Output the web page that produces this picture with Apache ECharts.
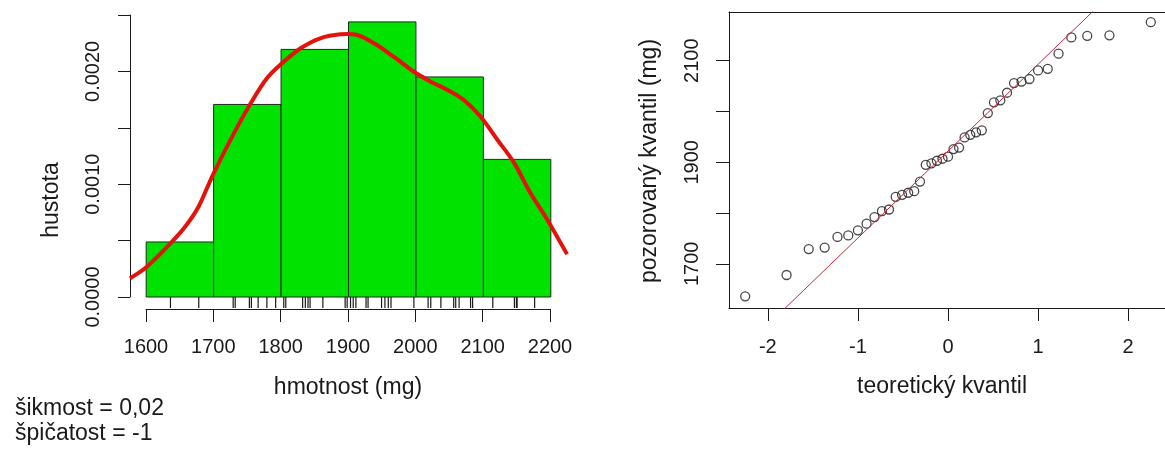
<!DOCTYPE html>
<html>
<head>
<meta charset="utf-8">
<script src="https://cdn.jsdelivr.net/npm/echarts@6/dist/echarts.min.js"></script>
<style>
  html, body { margin: 0; padding: 0; background: #fff; }
  #MyChart { width: 1165px; height: 450px; }
</style>
</head>
<body>
<div id="MyChart"></div>
<script>
// histogram bins (density scale)
const binStarts = [1600, 1700, 1800, 1900, 2000, 2100];
const binEnds = [1700, 1800, 1900, 2000, 2100, 2200];
const binDensity = [0.000488, 0.001707, 0.002195, 0.002439, 0.001951, 0.00122];

// measured weights, sorted (rug + qq plot)
const weights = [1636, 1678, 1729, 1732, 1753, 1756, 1766, 1779, 1792, 1804,
  1807, 1832, 1836, 1840, 1843, 1862, 1895, 1898, 1903, 1907,
  1911, 1926, 1929, 1949, 1954, 1959, 1963, 1997, 2018, 2022,
  2037, 2056, 2059, 2064, 2081, 2084, 2114, 2146, 2149, 2150, 2176];

// theoretical normal quantiles for the 41 points
const theorQuantiles = [-2.251, -1.792, -1.546, -1.369, -1.227, -1.107, -1.0, -0.904, -0.816, -0.733,
  -0.655, -0.581, -0.51, -0.442, -0.375, -0.311, -0.247, -0.184, -0.123, -0.061,
  0, 0.061, 0.123, 0.184, 0.247, 0.311, 0.375, 0.442, 0.51, 0.581,
  0.655, 0.733, 0.816, 0.904, 1.0, 1.107, 1.227, 1.369, 1.546, 1.792, 2.251];

// kernel density curve
const densityX = [1576, 1601, 1636, 1658, 1678, 1700, 1730, 1755, 1779, 1804,
  1829, 1858, 1888, 1913, 1938, 1967, 1997, 2022, 2047, 2071,
  2096, 2121, 2146, 2170, 2195, 2224];
const densityY = [0.000166, 0.000269, 0.000476, 0.000625, 0.000805, 0.001097, 0.001451, 0.001717, 0.001939, 0.002086,
  0.002205, 0.002293, 0.002329, 0.002323, 0.002249, 0.00213, 0.001997, 0.001909, 0.001835, 0.001746,
  0.001598, 0.001392, 0.001185, 0.000919, 0.000683, 0.000380];

// qq line end points
const qqLineX = [-2.431, 2.431];
const qqLineY = [1506, 2338];

const histTicks = [1600, 1700, 1800, 1900, 2000, 2100, 2200];
const densityLabels = [0, 0.001, 0.002];
const qqXTicks = [-2, -1, 0, 1, 2];
const qqYTicks = [1700, 1800, 1900, 2000, 2100];
const qqYLabels = [1700, 1900, 2100];

const FONT = 'Liberation Sans, Arial, Helvetica, sans-serif';
const INK = '#1a1a1a';

let myChart = echarts.init(document.getElementById('MyChart'), null, { renderer: 'canvas' });

function label(text, x, y, size, rot, align) {
  return {
    type: 'text', x: x, y: y, rotation: rot || 0,
    style: {
      text: text, fontSize: size, fontFamily: FONT, fill: INK,
      align: align || 'center', verticalAlign: 'middle',
      textAlign: align || 'center', textVerticalAlign: 'middle'
    }
  };
}

// smooth curve through the pixel points (Catmull-Rom as cubic bezier)
function curvePath(pts) {
  let d = 'M' + pts[0][0] + ' ' + pts[0][1];
  for (let i = 0; i < pts.length - 1; i++) {
    const p0 = pts[i > 0 ? i - 1 : i], p1 = pts[i], p2 = pts[i + 1];
    const p3 = pts[i + 2 < pts.length ? i + 2 : i + 1];
    const c1x = p1[0] + (p2[0] - p0[0]) / 6, c1y = p1[1] + (p2[1] - p0[1]) / 6;
    const c2x = p2[0] - (p3[0] - p1[0]) / 6, c2y = p2[1] - (p3[1] - p1[1]) / 6;
    d += ' C' + c1x + ' ' + c1y + ' ' + c2x + ' ' + c2y + ' ' + p2[0] + ' ' + p2[1];
  }
  return d;
}

const hidden = { show: false };
const plain = v => String(v);

let option = {
  backgroundColor: '#fff',
  animation: false,
  grid: [
    { left: 130, top: 15, width: 437, height: 282, outerBoundsMode: 'none', containLabel: false },   // histogram
    { left: 130, top: 297, width: 437, height: 11, outerBoundsMode: 'none', containLabel: false },   // rug
    { left: 146, top: 308, width: 404, height: 1, outerBoundsMode: 'none', containLabel: false },    // x axis of histogram
    { left: 729, top: 12, width: 438, height: 296, outerBoundsMode: 'none', containLabel: false }    // qq plot
  ],
  xAxis: [
    { gridIndex: 0, type: 'value', min: 1576, max: 2224, show: false },
    { gridIndex: 1, type: 'value', min: 1576, max: 2224, show: false },
    {
      gridIndex: 2, type: 'value', min: 1600, max: 2200, interval: 100, position: 'bottom',
      splitLine: hidden,
      axisLine: { show: true, lineStyle: { color: INK, width: 1 } },
      axisTick: { show: true, length: 13, lineStyle: { color: INK } },
      axisLabel: { fontSize: 20, fontFamily: FONT, color: INK, margin: 28, customValues: histTicks, formatter: plain }
    },
    {
      gridIndex: 3, type: 'value', min: qqLineX[0], max: qqLineX[1], position: 'bottom',
      splitLine: hidden,
      axisLine: { show: true, onZero: false, lineStyle: { color: INK, width: 1 } },
      axisTick: { show: true, length: 13, customValues: qqXTicks, lineStyle: { color: INK } },
      axisLabel: { fontSize: 20, fontFamily: FONT, color: INK, margin: 29, customValues: qqXTicks, formatter: plain }
    },
    {
      gridIndex: 3, type: 'value', min: qqLineX[0], max: qqLineX[1], position: 'top',
      splitLine: hidden, axisTick: hidden, axisLabel: hidden,
      axisLine: { show: true, onZero: false, lineStyle: { color: INK, width: 1 } }
    }
  ],
  yAxis: [
    {
      gridIndex: 0, type: 'value', min: 0, max: 0.0025, interval: 0.0005,
      splitLine: hidden,
      axisLine: { show: true, lineStyle: { color: INK, width: 1 } },
      axisTick: { show: true, length: 12, lineStyle: { color: INK } },
      axisLabel: {
        rotate: 90, margin: 27, fontSize: 20, fontFamily: FONT, color: INK,
        customValues: densityLabels,
        formatter: v => v.toFixed(4)
      }
    },
    { gridIndex: 1, type: 'value', min: 0, max: 1, show: false },
    { gridIndex: 2, type: 'value', min: 0, max: 1, show: false },
    {
      gridIndex: 3, type: 'value', min: 1613, max: 2196,
      splitLine: hidden,
      axisLine: { show: true, onZero: false, lineStyle: { color: INK, width: 1 } },
      axisTick: { show: true, length: 13, customValues: qqYTicks, lineStyle: { color: INK } },
      axisLabel: {
        rotate: 90, margin: 27, fontSize: 20, fontFamily: FONT, color: INK,
        customValues: qqYLabels, formatter: plain
      }
    }
  ],
  graphic: [
    label('hustota', 52, 200, 23, Math.PI / 2),
    label('hmotnost (mg)', 348, 388, 23),
    label('šikmost = 0,02', 15, 409, 23, 0, 'left'),
    label('špičatost = -1', 15, 434, 23, 0, 'left'),
    label('pozorovaný kvantil (mg)', 650, 161, 23, Math.PI / 2),
    label('teoretický kvantil', 942, 387, 23)
  ],
  series: [
    {
      // histogram bars
      type: 'custom', xAxisIndex: 0, yAxisIndex: 0,
      data: binStarts.map((b, i) => [b, binEnds[i], binDensity[i]]),
      renderItem: function (params, api) {
        const p0 = api.coord([api.value(0), api.value(2)]);
        const p1 = api.coord([api.value(1), 0]);
        return {
          type: 'rect',
          shape: { x: p0[0], y: p0[1], width: p1[0] - p0[0], height: p1[1] - p0[1] },
          style: { fill: '#00e300', stroke: '#1e2a1e', lineWidth: 1 }
        };
      }
    },
    {
      // density curve
      type: 'custom', xAxisIndex: 0, yAxisIndex: 0,
      data: [[densityX[0], densityY[0]]],
      renderItem: function (params, api) {
        const pts = densityX.map((x, i) => api.coord([x, densityY[i]]));
        return {
          type: 'path',
          shape: { pathData: curvePath(pts) },
          style: { fill: 'none', stroke: '#e3120b', lineWidth: 4, lineJoin: 'round' }
        };
      }
    },
    {
      // rug
      type: 'custom', xAxisIndex: 1, yAxisIndex: 1,
      data: weights,
      renderItem: function (params, api) {
        const a = api.coord([api.value(0), 0]);
        const b = api.coord([api.value(0), 1]);
        return {
          type: 'line',
          shape: { x1: a[0], y1: a[1], x2: b[0], y2: b[1] },
          style: { stroke: INK, lineWidth: 1.2 }
        };
      }
    },
    {
      // qq line
      type: 'line', xAxisIndex: 3, yAxisIndex: 3,
      data: qqLineX.map((x, i) => [x, qqLineY[i]]),
      showSymbol: false, symbol: 'none', clip: true,
      lineStyle: { color: '#c3283a', width: 1 }
    },
    {
      // qq points
      type: 'scatter', xAxisIndex: 3, yAxisIndex: 3,
      data: theorQuantiles.map((q, i) => [q, weights[i]]),
      symbol: 'circle', symbolSize: 9,
      itemStyle: { color: 'rgba(255,255,255,0)', borderColor: INK, borderWidth: 1.3 }
    }
  ]
};

myChart.setOption(option);
</script>
</body>
</html>
